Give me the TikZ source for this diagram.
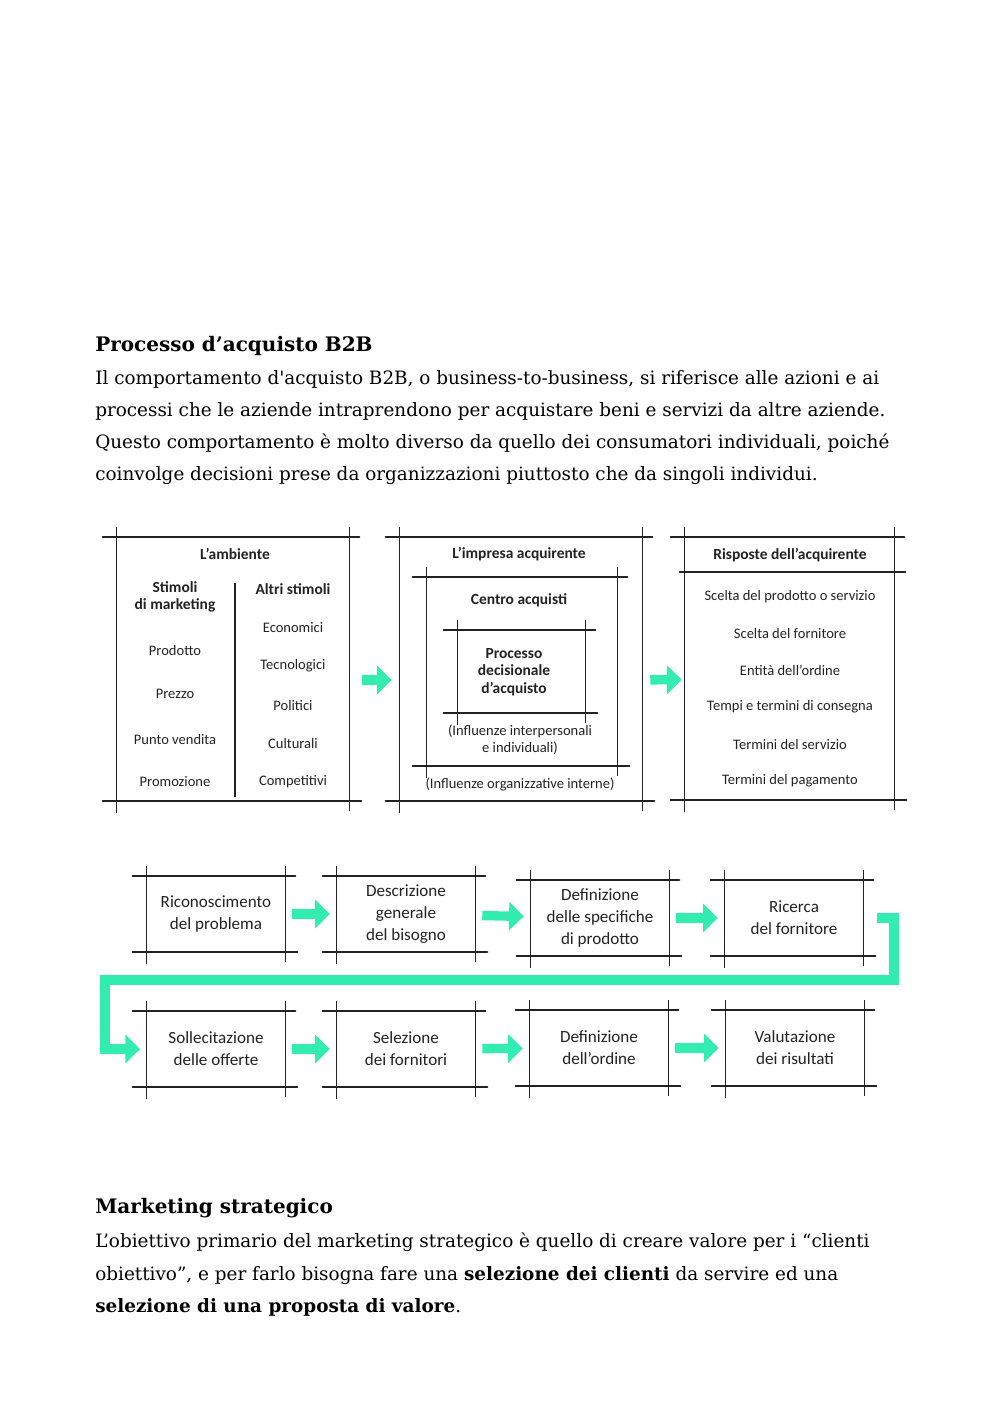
\documentclass[tikz,border=0pt]{standalone}
\usepackage{fontspec}
\setmainfont{DejaVu Serif}
\newfontfamily\handfont{Carlito}
\usetikzlibrary{positioning,arrows.meta,calc}
\definecolor{ink}{HTML}{222222}
\definecolor{mint}{HTML}{33EDB0}
% hand-drawn looking frame round a named node
\newcommand\sketchbox[1]{%
  \draw[rough] ($(#1.north west)+(-14,0)$) -- ($(#1.north east)+(10,0)$);
  \draw[rough] ($(#1.south west)+(-14,0)$) -- ($(#1.south east)+(12,0)$);
  \draw[roughv] ($(#1.north west)+(0,-10)$) -- ($(#1.south west)+(0,12)$);
  \draw[roughv] ($(#1.north east)+(0,-10)$) -- ($(#1.south east)+(0,10)$);}

\begin{document}
\begin{tikzpicture}[x=0.75pt,y=-0.75pt,
  txt/.style={font=\fontsize{13.8}{16}\selectfont,anchor=base west,inner sep=0pt},
  head/.style={txt,font=\fontsize{15}{17}\selectfont\bfseries},
  rough/.style={ink,line width=1.5pt,line cap=round},
  roughv/.style={ink,line width=0.9pt},
  frame/.style={inner sep=0pt},
  lbl/.style={font=\handfont\fontsize{10.9}{12.5}\selectfont,text=ink,align=center,inner sep=0pt},
  ttl/.style={lbl,font=\handfont\bfseries\fontsize{11.6}{13}\selectfont},
  stage/.style={frame,minimum width=103.5pt,minimum height=57pt,align=center,
                font=\handfont\fontsize{12.8}{16.5}\selectfont,text=ink},
  garrow/.style={mint,line width=7pt,-{Triangle[length=11pt,width=21pt]}}]
\useasboundingbox (0,0) rectangle (1000,1414);
% text above
\node[head] (h1) at (95,351) {Processo d’acquisto B2B};
\node[txt] (p1) at (95,384) {Il comportamento d\textquotesingle acquisto B2B, o business-to-business, si riferisce alle azioni e ai};
\node[txt] (p2) at (95,416) {processi che le aziende intraprendono per acquistare beni e servizi da altre aziende.};
\node[txt] (p3) at (95,448) {Questo comportamento è molto diverso da quello dei consumatori individuali, poiché};
\node[txt] (p4) at (95,480) {coinvolge decisioni prese da organizzazioni piuttosto che da singoli individui.};

% top model: three frames
\node[frame,minimum width=174pt,minimum height=198pt] (amb) at (233,669) {};
\node[frame,minimum width=181.5pt,minimum height=198pt] (imp) at (521,669) {};
\node[frame,minimum width=142.5pt,minimum height=141.75pt] (cen) at (522,671.5) {};
\node[frame,minimum width=95.25pt,minimum height=62.25pt] (proc) at (521.5,671.5) {};
\node[frame,minimum width=156.75pt,minimum height=197.25pt] (risp) at (789.5,668.5) {};
\sketchbox{amb} \sketchbox{imp} \sketchbox{cen} \sketchbox{proc} \sketchbox{risp}
\draw[roughv] (235,583) -- (235,797);
\draw[rough] ($(risp.north west)+(-5,35)$) -- ($(risp.north east)+(11,35)$);

\node[ttl] (ambt) at (235,554) {L’ambiente};
\node[ttl] (stim) at (175,597) {Stimoli\\di marketing};
\node[ttl] (altri) at (293,589) {Altri stimoli};
\node[lbl] at (175,650) {Prodotto};
\node[lbl] at (175,694) {Prezzo};
\node[lbl] at (175,739) {Punto vendita};
\node[lbl] at (175,782) {Promozione};
\node[lbl] at (293,628) {Economici};
\node[lbl] at (293,666) {Tecnologici};
\node[lbl] at (293,705) {Politici};
\node[lbl] at (293,743) {Culturali};
\node[lbl] at (293,782) {Competitivi};

\node[ttl] (impt) at (519,554) {L’impresa acquirente};
\node[ttl] (cent) at (519,600) {Centro acquisti};
\node[ttl] (proct) at (514,672) {Processo\\decisionale\\d’acquisto};
\node[lbl] (infl1) at (520,740) {(Influenze interpersonali\\e individuali)};
\node[lbl] (infl2) at (520,784) {(Influenze organizzative interne)};

\node[ttl] (rispt) at (790,555) {Risposte dell’acquirente};
\node[lbl] at (790,597) {Scelta del prodotto o servizio};
\node[lbl] at (790,633) {Scelta del fornitore};
\node[lbl] at (790,670) {Entità dell’ordine};
\node[lbl] at (790,707) {Tempi e termini di consegna};
\node[lbl] at (790,744) {Termini del servizio};
\node[lbl] at (790,781) {Termini del pagamento};

\draw[garrow,shorten <=9.75pt,shorten >=6pt] ([yshift=-8.25pt]amb.east) -- ([yshift=-8.25pt]imp.west);
\draw[garrow,shorten <=6pt,shorten >=2.25pt] ([yshift=-8.25pt]imp.east) -- ([yshift=-8.25pt]risp.west);

% buying process, first row
\node[stage] (ric) at (216,914) {Riconoscimento\\del problema};
\node[stage] (descr) at (406,914) {Descrizione\\generale\\del bisogno};
\node[stage] (spec) at (600,918) {Definizione\\delle specifiche\\di prodotto};
\node[stage] (forn) at (794,918) {Ricerca\\del fornitore};
% second row
\node[stage] (soll) at (216,1049) {Sollecitazione\\delle offerte};
\node[stage] (sel) at (406,1049) {Selezione\\dei fornitori};
\node[stage] (ord) at (599,1048) {Definizione\\dell’ordine};
\node[stage] (val) at (795,1048) {Valutazione\\dei risultati};
\foreach \n in {ric,descr,spec,forn,soll,sel,ord,val} {\sketchbox{\n}}

\coordinate (loopR) at (894,980);
\coordinate (loopL) at (105,980);
\draw[garrow,shorten <=5.25pt,shorten >=5.25pt] (ric) -- (descr);
\draw[garrow,shorten <=5.25pt,shorten >=5.25pt] (descr) -- (spec);
\draw[garrow,shorten <=5.25pt,shorten >=5.25pt] (spec) -- (forn);
\draw[garrow,line join=miter] ([xshift=10.5pt]forn.east) -| (loopR) -- (loopL) |- ([xshift=-5pt]soll.west);
\draw[garrow,shorten <=5.25pt,shorten >=5.25pt] (soll) -- (sel);
\draw[garrow,shorten <=5.25pt,shorten >=5.25pt] (sel) -- (ord);
\draw[garrow,shorten <=5.25pt,shorten >=5.25pt] (ord) -- (val);

% text below
\node[head] (h2) at (95,1213) {Marketing strategico};
\node[txt] (q1) at (95,1247) {L’obiettivo primario del marketing strategico è quello di creare valore per i “clienti};
\node[txt] (q2) at (95,1280) {obiettivo”, e per farlo bisogna fare una \textbf{selezione dei clienti} da servire ed una};
\node[txt] (q3) at (95,1312) {\textbf{selezione di una proposta di valore}.};
\end{tikzpicture}
\end{document}
